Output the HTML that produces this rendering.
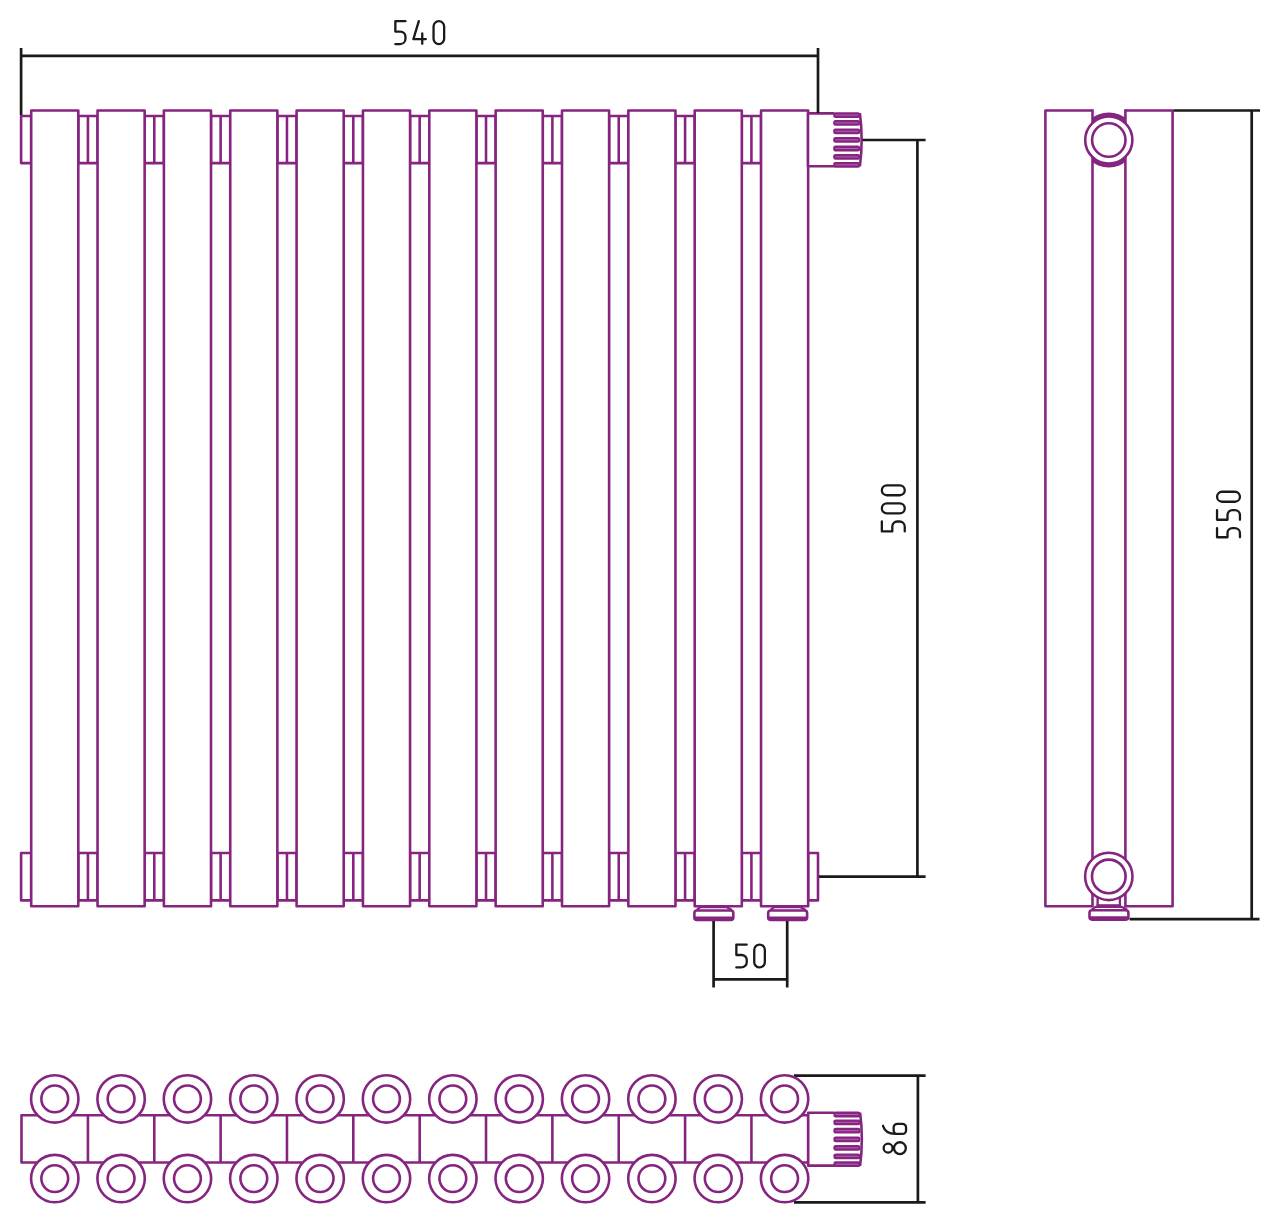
<!DOCTYPE html>
<html><head><meta charset="utf-8"><title>Radiator drawing</title>
<style>html,body{margin:0;padding:0;background:#fff;} svg{display:block;} svg rect, svg path{stroke-linejoin:round;}</style></head>
<body>
<svg width="1280" height="1224" viewBox="0 0 1280 1224">
<rect width="1280" height="1224" fill="#fff"/>
<rect x="78.30" y="116.00" width="19.25" height="47.10" fill="#fff" stroke="#862580" stroke-width="2.6" />
<line x1="87.92" y1="116.00" x2="87.92" y2="163.10" stroke="#862580" stroke-width="2.6" stroke-linecap="butt"/>
<rect x="78.30" y="853.00" width="19.25" height="47.40" fill="#fff" stroke="#862580" stroke-width="2.6" />
<line x1="87.92" y1="853.00" x2="87.92" y2="900.40" stroke="#862580" stroke-width="2.6" stroke-linecap="butt"/>
<rect x="144.65" y="116.00" width="19.25" height="47.10" fill="#fff" stroke="#862580" stroke-width="2.6" />
<line x1="154.27" y1="116.00" x2="154.27" y2="163.10" stroke="#862580" stroke-width="2.6" stroke-linecap="butt"/>
<rect x="144.65" y="853.00" width="19.25" height="47.40" fill="#fff" stroke="#862580" stroke-width="2.6" />
<line x1="154.27" y1="853.00" x2="154.27" y2="900.40" stroke="#862580" stroke-width="2.6" stroke-linecap="butt"/>
<rect x="211.00" y="116.00" width="19.25" height="47.10" fill="#fff" stroke="#862580" stroke-width="2.6" />
<line x1="220.62" y1="116.00" x2="220.62" y2="163.10" stroke="#862580" stroke-width="2.6" stroke-linecap="butt"/>
<rect x="211.00" y="853.00" width="19.25" height="47.40" fill="#fff" stroke="#862580" stroke-width="2.6" />
<line x1="220.62" y1="853.00" x2="220.62" y2="900.40" stroke="#862580" stroke-width="2.6" stroke-linecap="butt"/>
<rect x="277.35" y="116.00" width="19.25" height="47.10" fill="#fff" stroke="#862580" stroke-width="2.6" />
<line x1="286.97" y1="116.00" x2="286.97" y2="163.10" stroke="#862580" stroke-width="2.6" stroke-linecap="butt"/>
<rect x="277.35" y="853.00" width="19.25" height="47.40" fill="#fff" stroke="#862580" stroke-width="2.6" />
<line x1="286.97" y1="853.00" x2="286.97" y2="900.40" stroke="#862580" stroke-width="2.6" stroke-linecap="butt"/>
<rect x="343.70" y="116.00" width="19.25" height="47.10" fill="#fff" stroke="#862580" stroke-width="2.6" />
<line x1="353.32" y1="116.00" x2="353.32" y2="163.10" stroke="#862580" stroke-width="2.6" stroke-linecap="butt"/>
<rect x="343.70" y="853.00" width="19.25" height="47.40" fill="#fff" stroke="#862580" stroke-width="2.6" />
<line x1="353.32" y1="853.00" x2="353.32" y2="900.40" stroke="#862580" stroke-width="2.6" stroke-linecap="butt"/>
<rect x="410.05" y="116.00" width="19.25" height="47.10" fill="#fff" stroke="#862580" stroke-width="2.6" />
<line x1="419.67" y1="116.00" x2="419.67" y2="163.10" stroke="#862580" stroke-width="2.6" stroke-linecap="butt"/>
<rect x="410.05" y="853.00" width="19.25" height="47.40" fill="#fff" stroke="#862580" stroke-width="2.6" />
<line x1="419.67" y1="853.00" x2="419.67" y2="900.40" stroke="#862580" stroke-width="2.6" stroke-linecap="butt"/>
<rect x="476.40" y="116.00" width="19.25" height="47.10" fill="#fff" stroke="#862580" stroke-width="2.6" />
<line x1="486.02" y1="116.00" x2="486.02" y2="163.10" stroke="#862580" stroke-width="2.6" stroke-linecap="butt"/>
<rect x="476.40" y="853.00" width="19.25" height="47.40" fill="#fff" stroke="#862580" stroke-width="2.6" />
<line x1="486.02" y1="853.00" x2="486.02" y2="900.40" stroke="#862580" stroke-width="2.6" stroke-linecap="butt"/>
<rect x="542.75" y="116.00" width="19.25" height="47.10" fill="#fff" stroke="#862580" stroke-width="2.6" />
<line x1="552.38" y1="116.00" x2="552.38" y2="163.10" stroke="#862580" stroke-width="2.6" stroke-linecap="butt"/>
<rect x="542.75" y="853.00" width="19.25" height="47.40" fill="#fff" stroke="#862580" stroke-width="2.6" />
<line x1="552.38" y1="853.00" x2="552.38" y2="900.40" stroke="#862580" stroke-width="2.6" stroke-linecap="butt"/>
<rect x="609.10" y="116.00" width="19.25" height="47.10" fill="#fff" stroke="#862580" stroke-width="2.6" />
<line x1="618.73" y1="116.00" x2="618.73" y2="163.10" stroke="#862580" stroke-width="2.6" stroke-linecap="butt"/>
<rect x="609.10" y="853.00" width="19.25" height="47.40" fill="#fff" stroke="#862580" stroke-width="2.6" />
<line x1="618.73" y1="853.00" x2="618.73" y2="900.40" stroke="#862580" stroke-width="2.6" stroke-linecap="butt"/>
<rect x="675.45" y="116.00" width="19.25" height="47.10" fill="#fff" stroke="#862580" stroke-width="2.6" />
<line x1="685.08" y1="116.00" x2="685.08" y2="163.10" stroke="#862580" stroke-width="2.6" stroke-linecap="butt"/>
<rect x="675.45" y="853.00" width="19.25" height="47.40" fill="#fff" stroke="#862580" stroke-width="2.6" />
<line x1="685.08" y1="853.00" x2="685.08" y2="900.40" stroke="#862580" stroke-width="2.6" stroke-linecap="butt"/>
<rect x="741.80" y="116.00" width="19.25" height="47.10" fill="#fff" stroke="#862580" stroke-width="2.6" />
<line x1="751.42" y1="116.00" x2="751.42" y2="163.10" stroke="#862580" stroke-width="2.6" stroke-linecap="butt"/>
<rect x="741.80" y="853.00" width="19.25" height="47.40" fill="#fff" stroke="#862580" stroke-width="2.6" />
<line x1="751.42" y1="853.00" x2="751.42" y2="900.40" stroke="#862580" stroke-width="2.6" stroke-linecap="butt"/>
<rect x="21.10" y="116.00" width="10.10" height="47.10" fill="#fff" stroke="#862580" stroke-width="2.6" />
<rect x="21.10" y="853.00" width="10.10" height="47.40" fill="#fff" stroke="#862580" stroke-width="2.6" />
<rect x="808.15" y="853.00" width="9.85" height="47.40" fill="#fff" stroke="#862580" stroke-width="2.6" />
<rect x="31.20" y="110.50" width="47.10" height="795.70" fill="#fff" stroke="#862580" stroke-width="2.6" />
<rect x="97.55" y="110.50" width="47.10" height="795.70" fill="#fff" stroke="#862580" stroke-width="2.6" />
<rect x="163.90" y="110.50" width="47.10" height="795.70" fill="#fff" stroke="#862580" stroke-width="2.6" />
<rect x="230.25" y="110.50" width="47.10" height="795.70" fill="#fff" stroke="#862580" stroke-width="2.6" />
<rect x="296.60" y="110.50" width="47.10" height="795.70" fill="#fff" stroke="#862580" stroke-width="2.6" />
<rect x="362.95" y="110.50" width="47.10" height="795.70" fill="#fff" stroke="#862580" stroke-width="2.6" />
<rect x="429.30" y="110.50" width="47.10" height="795.70" fill="#fff" stroke="#862580" stroke-width="2.6" />
<rect x="495.65" y="110.50" width="47.10" height="795.70" fill="#fff" stroke="#862580" stroke-width="2.6" />
<rect x="562.00" y="110.50" width="47.10" height="795.70" fill="#fff" stroke="#862580" stroke-width="2.6" />
<rect x="628.35" y="110.50" width="47.10" height="795.70" fill="#fff" stroke="#862580" stroke-width="2.6" />
<rect x="694.70" y="110.50" width="47.10" height="795.70" fill="#fff" stroke="#862580" stroke-width="2.6" />
<rect x="761.05" y="110.50" width="47.10" height="795.70" fill="#fff" stroke="#862580" stroke-width="2.6" />
<path d="M834.20,113.35 H808.00 V166.25 H834.20" fill="#fff" stroke="#862580" stroke-width="2.6"/>
<rect x="833.20" y="112.20" width="27.00" height="5.80" rx="2.2" fill="#862580"/>
<line x1="835.40" y1="115.10" x2="858.20" y2="115.10" stroke="#b868b8" stroke-width="0.9"/>
<rect x="833.20" y="120.00" width="27.00" height="5.80" rx="2.2" fill="#862580"/>
<line x1="835.40" y1="122.90" x2="858.20" y2="122.90" stroke="#b868b8" stroke-width="0.9"/>
<rect x="833.20" y="128.40" width="27.00" height="5.80" rx="2.2" fill="#862580"/>
<line x1="835.40" y1="131.30" x2="858.20" y2="131.30" stroke="#b868b8" stroke-width="0.9"/>
<rect x="833.20" y="137.00" width="27.00" height="5.80" rx="2.2" fill="#862580"/>
<line x1="835.40" y1="139.90" x2="858.20" y2="139.90" stroke="#b868b8" stroke-width="0.9"/>
<rect x="833.20" y="145.60" width="27.00" height="5.80" rx="2.2" fill="#862580"/>
<line x1="835.40" y1="148.50" x2="858.20" y2="148.50" stroke="#b868b8" stroke-width="0.9"/>
<rect x="833.20" y="154.00" width="27.00" height="5.80" rx="2.2" fill="#862580"/>
<line x1="835.40" y1="156.90" x2="858.20" y2="156.90" stroke="#b868b8" stroke-width="0.9"/>
<rect x="833.20" y="161.90" width="27.00" height="5.80" rx="2.2" fill="#862580"/>
<line x1="835.40" y1="164.80" x2="858.20" y2="164.80" stroke="#b868b8" stroke-width="0.9"/>
<path d="M859.90,113.20 Q863.40,139.80 859.90,166.40" fill="none" stroke="#862580" stroke-width="2.6"/>
<path d="M696.70,909.90 L700.50,907.10 H726.30 L731.90,909.90" fill="none" stroke="#862580" stroke-width="2.2"/>
<rect x="694.40" y="910.50" width="38.90" height="9.4" rx="2.5" fill="#fff" stroke="#862580" stroke-width="2.6"/>
<rect x="694.40" y="916.60" width="38.90" height="3.3" rx="1" fill="#862580"/>
<path d="M770.50,909.90 L774.30,907.10 H800.10 L805.70,909.90" fill="none" stroke="#862580" stroke-width="2.2"/>
<rect x="768.20" y="910.50" width="38.90" height="9.4" rx="2.5" fill="#fff" stroke="#862580" stroke-width="2.6"/>
<rect x="768.20" y="916.60" width="38.90" height="3.3" rx="1" fill="#862580"/>
<line x1="21.10" y1="48.00" x2="21.10" y2="115.00" stroke="#1a1a1a" stroke-width="2.7" stroke-linecap="butt"/>
<line x1="818.00" y1="48.00" x2="818.00" y2="113.00" stroke="#1a1a1a" stroke-width="2.7" stroke-linecap="butt"/>
<line x1="21.10" y1="55.90" x2="818.00" y2="55.90" stroke="#1a1a1a" stroke-width="2.7" stroke-linecap="butt"/>
<path transform="translate(394.2,20.0)" d="M11.25,1.15 H1.15 V11.6 H6.20 A5.05,4.8 0 0 1 11.25,16.4 V18.9 A5.35,5.15 0 0 1 5.90,24.05 H1.15" fill="none" stroke="#1a1a1a" stroke-width="2.3" stroke-linecap="round" stroke-linejoin="round"/>
<path transform="translate(412.2,20.0)" d="M6.6,1.15 L1.2,19.1 H13.65 M10.05,13.4 V23.85" fill="none" stroke="#1a1a1a" stroke-width="2.3" stroke-linecap="round" stroke-linejoin="round"/>
<path transform="translate(432.4,20.0)" d="M1.15,6.45 A5.30,5.30 0 0 1 11.75,6.45 V18.75 A5.30,5.30 0 0 1 1.15,18.75 Z" fill="none" stroke="#1a1a1a" stroke-width="2.3" stroke-linecap="round" stroke-linejoin="round"/>
<line x1="862.50" y1="140.00" x2="925.60" y2="140.00" stroke="#1a1a1a" stroke-width="2.7" stroke-linecap="butt"/>
<line x1="819.00" y1="876.60" x2="925.60" y2="876.60" stroke="#1a1a1a" stroke-width="2.7" stroke-linecap="butt"/>
<line x1="917.40" y1="140.00" x2="917.40" y2="876.60" stroke="#1a1a1a" stroke-width="2.7" stroke-linecap="butt"/>
<path transform="translate(880.7,532.6) rotate(-90)" d="M11.10,1.15 H1.15 V11.6 H6.12 A4.97,4.8 0 0 1 11.10,16.4 V18.9 A5.27,5.15 0 0 1 5.83,24.05 H1.15" fill="none" stroke="#1a1a1a" stroke-width="2.3" stroke-linecap="round" stroke-linejoin="round"/>
<path transform="translate(880.7,514.5) rotate(-90)" d="M1.15,6.12 A4.97,4.97 0 0 1 11.10,6.12 V19.08 A4.97,4.97 0 0 1 1.15,19.08 Z" fill="none" stroke="#1a1a1a" stroke-width="2.3" stroke-linecap="round" stroke-linejoin="round"/>
<path transform="translate(880.7,496.4) rotate(-90)" d="M1.15,6.12 A4.97,4.97 0 0 1 11.10,6.12 V19.08 A4.97,4.97 0 0 1 1.15,19.08 Z" fill="none" stroke="#1a1a1a" stroke-width="2.3" stroke-linecap="round" stroke-linejoin="round"/>
<line x1="713.60" y1="921.00" x2="713.60" y2="987.50" stroke="#1a1a1a" stroke-width="2.7" stroke-linecap="butt"/>
<line x1="787.20" y1="921.00" x2="787.20" y2="987.50" stroke="#1a1a1a" stroke-width="2.7" stroke-linecap="butt"/>
<line x1="713.60" y1="979.40" x2="787.20" y2="979.40" stroke="#1a1a1a" stroke-width="2.7" stroke-linecap="butt"/>
<path transform="translate(735.2,943.4)" d="M11.55,1.15 H1.15 V11.6 H6.35 A5.20,4.8 0 0 1 11.55,16.4 V18.9 A5.50,5.15 0 0 1 6.05,24.05 H1.15" fill="none" stroke="#1a1a1a" stroke-width="2.3" stroke-linecap="round" stroke-linejoin="round"/>
<path transform="translate(753.1,943.4)" d="M1.15,6.45 A5.30,5.30 0 0 1 11.75,6.45 V18.75 A5.30,5.30 0 0 1 1.15,18.75 Z" fill="none" stroke="#1a1a1a" stroke-width="2.3" stroke-linecap="round" stroke-linejoin="round"/>
<path d="M1092.5,110.5 H1045.4 V906.2 H1092.5" fill="none" stroke="#862580" stroke-width="2.6"/>
<path d="M1125.4,110.5 H1172.6 V906.2 H1125.4" fill="none" stroke="#862580" stroke-width="2.6"/>
<line x1="1092.50" y1="109.20" x2="1092.50" y2="907.20" stroke="#862580" stroke-width="2.6" stroke-linecap="butt"/>
<line x1="1125.40" y1="109.20" x2="1125.40" y2="907.20" stroke="#862580" stroke-width="2.6" stroke-linecap="butt"/>
<clipPath id="strip"><rect x="1092.5" y="100" width="32.90000000000009" height="80"/></clipPath>
<circle cx="1108.8" cy="140.0" r="27.5" fill="#862580" clip-path="url(#strip)"/>
<circle cx="1108.8" cy="140.0" r="23.6" fill="#fff" stroke="#862580" stroke-width="2.6"/>
<circle cx="1108.8" cy="140.0" r="16.7" fill="none" stroke="#862580" stroke-width="2.6"/>
<line x1="1097.60" y1="890.00" x2="1097.60" y2="905.50" stroke="#862580" stroke-width="2.3" stroke-linecap="butt"/>
<line x1="1119.90" y1="890.00" x2="1119.90" y2="905.50" stroke="#862580" stroke-width="2.3" stroke-linecap="butt"/>
<line x1="1096.50" y1="905.40" x2="1121.00" y2="905.40" stroke="#862580" stroke-width="2.4" stroke-linecap="butt"/>
<circle cx="1108.8" cy="876.4" r="23.7" fill="#fff" stroke="#862580" stroke-width="2.6"/>
<circle cx="1108.8" cy="876.4" r="16.8" fill="none" stroke="#862580" stroke-width="2.6"/>
<path d="M1091.80,909.60 L1095.60,906.80 H1121.40 L1127.00,909.60" fill="none" stroke="#862580" stroke-width="2.2"/>
<rect x="1089.50" y="910.20" width="38.90" height="9.4" rx="2.5" fill="#fff" stroke="#862580" stroke-width="2.6"/>
<rect x="1089.50" y="916.30" width="38.90" height="3.3" rx="1" fill="#862580"/>
<line x1="1173.60" y1="110.50" x2="1260.00" y2="110.50" stroke="#1a1a1a" stroke-width="2.7" stroke-linecap="butt"/>
<line x1="1129.60" y1="919.20" x2="1259.50" y2="919.20" stroke="#1a1a1a" stroke-width="2.7" stroke-linecap="butt"/>
<line x1="1251.70" y1="110.50" x2="1251.70" y2="919.20" stroke="#1a1a1a" stroke-width="2.7" stroke-linecap="butt"/>
<path transform="translate(1215.9,538.4) rotate(-90)" d="M10.25,1.15 H1.15 V11.6 H5.70 A4.55,4.8 0 0 1 10.25,16.4 V18.9 A4.82,5.15 0 0 1 5.43,24.05 H1.15" fill="none" stroke="#1a1a1a" stroke-width="2.3" stroke-linecap="round" stroke-linejoin="round"/>
<path transform="translate(1215.9,520.9) rotate(-90)" d="M10.75,1.15 H1.15 V11.6 H5.95 A4.80,4.8 0 0 1 10.75,16.4 V18.9 A5.09,5.15 0 0 1 5.66,24.05 H1.15" fill="none" stroke="#1a1a1a" stroke-width="2.3" stroke-linecap="round" stroke-linejoin="round"/>
<path transform="translate(1215.9,502.9) rotate(-90)" d="M1.15,6.15 A5.00,5.00 0 0 1 11.15,6.15 V19.05 A5.00,5.00 0 0 1 1.15,19.05 Z" fill="none" stroke="#1a1a1a" stroke-width="2.3" stroke-linecap="round" stroke-linejoin="round"/>
<line x1="794.00" y1="1075.70" x2="925.60" y2="1075.70" stroke="#1a1a1a" stroke-width="2.7" stroke-linecap="butt"/>
<line x1="794.00" y1="1202.30" x2="925.60" y2="1202.30" stroke="#1a1a1a" stroke-width="2.7" stroke-linecap="butt"/>
<rect x="21.50" y="1115.25" width="786.70" height="47.25" fill="#fff" stroke="#862580" stroke-width="2.6" />
<line x1="87.92" y1="1115.25" x2="87.92" y2="1162.50" stroke="#862580" stroke-width="2.6" stroke-linecap="butt"/>
<line x1="154.28" y1="1115.25" x2="154.28" y2="1162.50" stroke="#862580" stroke-width="2.6" stroke-linecap="butt"/>
<line x1="220.62" y1="1115.25" x2="220.62" y2="1162.50" stroke="#862580" stroke-width="2.6" stroke-linecap="butt"/>
<line x1="286.97" y1="1115.25" x2="286.97" y2="1162.50" stroke="#862580" stroke-width="2.6" stroke-linecap="butt"/>
<line x1="353.32" y1="1115.25" x2="353.32" y2="1162.50" stroke="#862580" stroke-width="2.6" stroke-linecap="butt"/>
<line x1="419.68" y1="1115.25" x2="419.68" y2="1162.50" stroke="#862580" stroke-width="2.6" stroke-linecap="butt"/>
<line x1="486.02" y1="1115.25" x2="486.02" y2="1162.50" stroke="#862580" stroke-width="2.6" stroke-linecap="butt"/>
<line x1="552.37" y1="1115.25" x2="552.37" y2="1162.50" stroke="#862580" stroke-width="2.6" stroke-linecap="butt"/>
<line x1="618.73" y1="1115.25" x2="618.73" y2="1162.50" stroke="#862580" stroke-width="2.6" stroke-linecap="butt"/>
<line x1="685.08" y1="1115.25" x2="685.08" y2="1162.50" stroke="#862580" stroke-width="2.6" stroke-linecap="butt"/>
<line x1="751.43" y1="1115.25" x2="751.43" y2="1162.50" stroke="#862580" stroke-width="2.6" stroke-linecap="butt"/>
<circle cx="54.75" cy="1098.9" r="23.7" fill="#fff" stroke="#862580" stroke-width="2.6"/>
<circle cx="54.75" cy="1098.9" r="13.4" fill="none" stroke="#862580" stroke-width="2.6"/>
<circle cx="54.75" cy="1178.6" r="23.7" fill="#fff" stroke="#862580" stroke-width="2.6"/>
<circle cx="54.75" cy="1178.6" r="13.4" fill="none" stroke="#862580" stroke-width="2.6"/>
<circle cx="121.10" cy="1098.9" r="23.7" fill="#fff" stroke="#862580" stroke-width="2.6"/>
<circle cx="121.10" cy="1098.9" r="13.4" fill="none" stroke="#862580" stroke-width="2.6"/>
<circle cx="121.10" cy="1178.6" r="23.7" fill="#fff" stroke="#862580" stroke-width="2.6"/>
<circle cx="121.10" cy="1178.6" r="13.4" fill="none" stroke="#862580" stroke-width="2.6"/>
<circle cx="187.45" cy="1098.9" r="23.7" fill="#fff" stroke="#862580" stroke-width="2.6"/>
<circle cx="187.45" cy="1098.9" r="13.4" fill="none" stroke="#862580" stroke-width="2.6"/>
<circle cx="187.45" cy="1178.6" r="23.7" fill="#fff" stroke="#862580" stroke-width="2.6"/>
<circle cx="187.45" cy="1178.6" r="13.4" fill="none" stroke="#862580" stroke-width="2.6"/>
<circle cx="253.80" cy="1098.9" r="23.7" fill="#fff" stroke="#862580" stroke-width="2.6"/>
<circle cx="253.80" cy="1098.9" r="13.4" fill="none" stroke="#862580" stroke-width="2.6"/>
<circle cx="253.80" cy="1178.6" r="23.7" fill="#fff" stroke="#862580" stroke-width="2.6"/>
<circle cx="253.80" cy="1178.6" r="13.4" fill="none" stroke="#862580" stroke-width="2.6"/>
<circle cx="320.15" cy="1098.9" r="23.7" fill="#fff" stroke="#862580" stroke-width="2.6"/>
<circle cx="320.15" cy="1098.9" r="13.4" fill="none" stroke="#862580" stroke-width="2.6"/>
<circle cx="320.15" cy="1178.6" r="23.7" fill="#fff" stroke="#862580" stroke-width="2.6"/>
<circle cx="320.15" cy="1178.6" r="13.4" fill="none" stroke="#862580" stroke-width="2.6"/>
<circle cx="386.50" cy="1098.9" r="23.7" fill="#fff" stroke="#862580" stroke-width="2.6"/>
<circle cx="386.50" cy="1098.9" r="13.4" fill="none" stroke="#862580" stroke-width="2.6"/>
<circle cx="386.50" cy="1178.6" r="23.7" fill="#fff" stroke="#862580" stroke-width="2.6"/>
<circle cx="386.50" cy="1178.6" r="13.4" fill="none" stroke="#862580" stroke-width="2.6"/>
<circle cx="452.85" cy="1098.9" r="23.7" fill="#fff" stroke="#862580" stroke-width="2.6"/>
<circle cx="452.85" cy="1098.9" r="13.4" fill="none" stroke="#862580" stroke-width="2.6"/>
<circle cx="452.85" cy="1178.6" r="23.7" fill="#fff" stroke="#862580" stroke-width="2.6"/>
<circle cx="452.85" cy="1178.6" r="13.4" fill="none" stroke="#862580" stroke-width="2.6"/>
<circle cx="519.20" cy="1098.9" r="23.7" fill="#fff" stroke="#862580" stroke-width="2.6"/>
<circle cx="519.20" cy="1098.9" r="13.4" fill="none" stroke="#862580" stroke-width="2.6"/>
<circle cx="519.20" cy="1178.6" r="23.7" fill="#fff" stroke="#862580" stroke-width="2.6"/>
<circle cx="519.20" cy="1178.6" r="13.4" fill="none" stroke="#862580" stroke-width="2.6"/>
<circle cx="585.55" cy="1098.9" r="23.7" fill="#fff" stroke="#862580" stroke-width="2.6"/>
<circle cx="585.55" cy="1098.9" r="13.4" fill="none" stroke="#862580" stroke-width="2.6"/>
<circle cx="585.55" cy="1178.6" r="23.7" fill="#fff" stroke="#862580" stroke-width="2.6"/>
<circle cx="585.55" cy="1178.6" r="13.4" fill="none" stroke="#862580" stroke-width="2.6"/>
<circle cx="651.90" cy="1098.9" r="23.7" fill="#fff" stroke="#862580" stroke-width="2.6"/>
<circle cx="651.90" cy="1098.9" r="13.4" fill="none" stroke="#862580" stroke-width="2.6"/>
<circle cx="651.90" cy="1178.6" r="23.7" fill="#fff" stroke="#862580" stroke-width="2.6"/>
<circle cx="651.90" cy="1178.6" r="13.4" fill="none" stroke="#862580" stroke-width="2.6"/>
<circle cx="718.25" cy="1098.9" r="23.7" fill="#fff" stroke="#862580" stroke-width="2.6"/>
<circle cx="718.25" cy="1098.9" r="13.4" fill="none" stroke="#862580" stroke-width="2.6"/>
<circle cx="718.25" cy="1178.6" r="23.7" fill="#fff" stroke="#862580" stroke-width="2.6"/>
<circle cx="718.25" cy="1178.6" r="13.4" fill="none" stroke="#862580" stroke-width="2.6"/>
<circle cx="784.60" cy="1098.9" r="23.7" fill="#fff" stroke="#862580" stroke-width="2.6"/>
<circle cx="784.60" cy="1098.9" r="13.4" fill="none" stroke="#862580" stroke-width="2.6"/>
<circle cx="784.60" cy="1178.6" r="23.7" fill="#fff" stroke="#862580" stroke-width="2.6"/>
<circle cx="784.60" cy="1178.6" r="13.4" fill="none" stroke="#862580" stroke-width="2.6"/>
<path d="M834.40,1112.75 H808.20 V1165.65 H834.40" fill="#fff" stroke="#862580" stroke-width="2.6"/>
<rect x="833.40" y="1111.60" width="27.00" height="5.80" rx="2.2" fill="#862580"/>
<line x1="835.60" y1="1114.50" x2="858.40" y2="1114.50" stroke="#b868b8" stroke-width="0.9"/>
<rect x="833.40" y="1119.40" width="27.00" height="5.80" rx="2.2" fill="#862580"/>
<line x1="835.60" y1="1122.30" x2="858.40" y2="1122.30" stroke="#b868b8" stroke-width="0.9"/>
<rect x="833.40" y="1127.80" width="27.00" height="5.80" rx="2.2" fill="#862580"/>
<line x1="835.60" y1="1130.70" x2="858.40" y2="1130.70" stroke="#b868b8" stroke-width="0.9"/>
<rect x="833.40" y="1136.40" width="27.00" height="5.80" rx="2.2" fill="#862580"/>
<line x1="835.60" y1="1139.30" x2="858.40" y2="1139.30" stroke="#b868b8" stroke-width="0.9"/>
<rect x="833.40" y="1145.00" width="27.00" height="5.80" rx="2.2" fill="#862580"/>
<line x1="835.60" y1="1147.90" x2="858.40" y2="1147.90" stroke="#b868b8" stroke-width="0.9"/>
<rect x="833.40" y="1153.40" width="27.00" height="5.80" rx="2.2" fill="#862580"/>
<line x1="835.60" y1="1156.30" x2="858.40" y2="1156.30" stroke="#b868b8" stroke-width="0.9"/>
<rect x="833.40" y="1161.30" width="27.00" height="5.80" rx="2.2" fill="#862580"/>
<line x1="835.60" y1="1164.20" x2="858.40" y2="1164.20" stroke="#b868b8" stroke-width="0.9"/>
<path d="M860.10,1112.60 Q863.60,1139.20 860.10,1165.80" fill="none" stroke="#862580" stroke-width="2.6"/>
<line x1="917.90" y1="1075.70" x2="917.90" y2="1202.30" stroke="#1a1a1a" stroke-width="2.7" stroke-linecap="butt"/>
<path transform="translate(881.95,1155.2) rotate(-90)" d="M11.5,6.15 A4.45,4.45 0 1 1 2.6,6.15 A4.45,4.45 0 1 1 11.5,6.15 Z M12.95,17.95 A5.9,5.9 0 1 1 1.15,17.95 A5.9,5.9 0 1 1 12.95,17.95 Z" fill="none" stroke="#1a1a1a" stroke-width="2.3" stroke-linecap="round" stroke-linejoin="round"/>
<path transform="translate(881.95,1135.0) rotate(-90)" d="M9.2,1.05 Q1.2,3.5 1.05,13.5 M4.85,11.7 H7.4 A3.8,3.8 0 0 1 11.2,15.5 V20.3 A3.8,3.8 0 0 1 7.4,24.1 H4.85 A3.8,3.8 0 0 1 1.05,20.3 V15.5 A3.8,3.8 0 0 1 4.85,11.7 Z" fill="none" stroke="#1a1a1a" stroke-width="2.3" stroke-linecap="round" stroke-linejoin="round"/>
</svg>
</body></html>
